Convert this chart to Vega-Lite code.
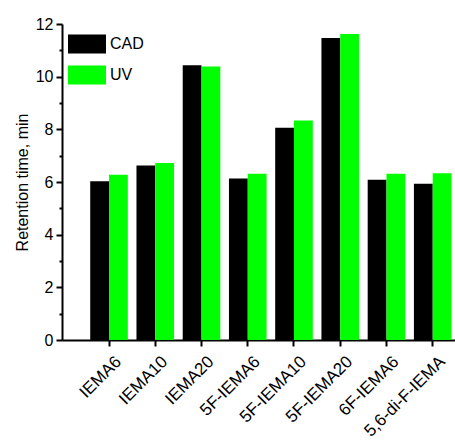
{
  "$schema": "https://vega.github.io/schema/vega-lite/v6.json",
  "width": 393,
  "height": 316,
  "autosize": {"type": "none"},
  "padding": {"left": 62, "top": 24, "right": 0, "bottom": 101},
  "background": "#ffffff",
  "config": {
    "view": {"stroke": null},
    "font": "Liberation Sans",
    "axis": {"grid": false, "domainColor": "#000000", "domainWidth": 2, "tickColor": "#000000", "tickWidth": 2, "labelColor": "#000000", "titleColor": "#000000", "labelFont": "Liberation Sans", "titleFont": "Liberation Sans", "titleFontWeight": "normal"},
    "legend": {"labelFont": "Liberation Sans"}
  },
  "data": {
    "values": [
      {"compound": "IEMA6", "method": "CAD", "time": 6.03},
      {"compound": "IEMA6", "method": "UV", "time": 6.28},
      {"compound": "IEMA10", "method": "CAD", "time": 6.63},
      {"compound": "IEMA10", "method": "UV", "time": 6.72},
      {"compound": "IEMA20", "method": "CAD", "time": 10.43},
      {"compound": "IEMA20", "method": "UV", "time": 10.39},
      {"compound": "5F-IEMA6", "method": "CAD", "time": 6.13},
      {"compound": "5F-IEMA6", "method": "UV", "time": 6.31},
      {"compound": "5F-IEMA10", "method": "CAD", "time": 8.06},
      {"compound": "5F-IEMA10", "method": "UV", "time": 8.34},
      {"compound": "5F-IEMA20", "method": "CAD", "time": 11.47},
      {"compound": "5F-IEMA20", "method": "UV", "time": 11.62},
      {"compound": "6F-IEMA6", "method": "CAD", "time": 6.09},
      {"compound": "6F-IEMA6", "method": "UV", "time": 6.31},
      {"compound": "5,6-di-F-IEMA", "method": "CAD", "time": 5.93},
      {"compound": "5,6-di-F-IEMA", "method": "UV", "time": 6.33}
    ]
  },
  "mark": {"type": "bar"},
  "encoding": {
    "x": {
      "field": "compound",
      "type": "nominal",
      "sort": null,
      "scale": {"paddingInner": 0.187, "paddingOuter": 0.343, "align": 0.89},
      "axis": {
        "title": null,
        "bandPosition": 0.5,
        "labelAngle": -45,
        "labelFontSize": 17,
        "tickSize": 6,
        "labelPadding": 7,
        "labelOffset": 4
      }
    },
    "xOffset": {
      "field": "method",
      "type": "nominal",
      "sort": ["CAD", "UV"],
      "scale": {"paddingInner": 0, "paddingOuter": 0}
    },
    "y": {
      "field": "time",
      "type": "quantitative",
      "scale": {"domain": [0, 12], "nice": false, "zero": true},
      "axis": {
        "title": "Retention time, min",
        "titleFontSize": 16,
        "titlePadding": 5,
        "labelFontSize": 16,
        "labelPadding": 3,
        "values": [0, 1, 2, 3, 4, 5, 6, 7, 8, 9, 10, 11, 12],
        "labelExpr": "datum.value % 2 ? '' : datum.label",
        "tickSize": {"condition": {"test": "datum.value % 2", "value": 3}, "value": 6}
      }
    },
    "color": {
      "field": "method",
      "type": "nominal",
      "scale": {"domain": ["CAD", "UV"], "range": ["#000000", "#00ff00"]},
      "legend": {
        "title": null,
        "orient": "none",
        "legendX": 6,
        "legendY": 1,
        "padding": 0,
        "symbolType": "M-1,-0.5H1V0.5H-1Z",
        "symbolSize": 1444,
        "symbolStrokeWidth": 0,
        "symbolOpacity": 1,
        "labelFontSize": 16,
        "labelOffset": 4,
        "rowPadding": 2
      }
    }
  }
}
